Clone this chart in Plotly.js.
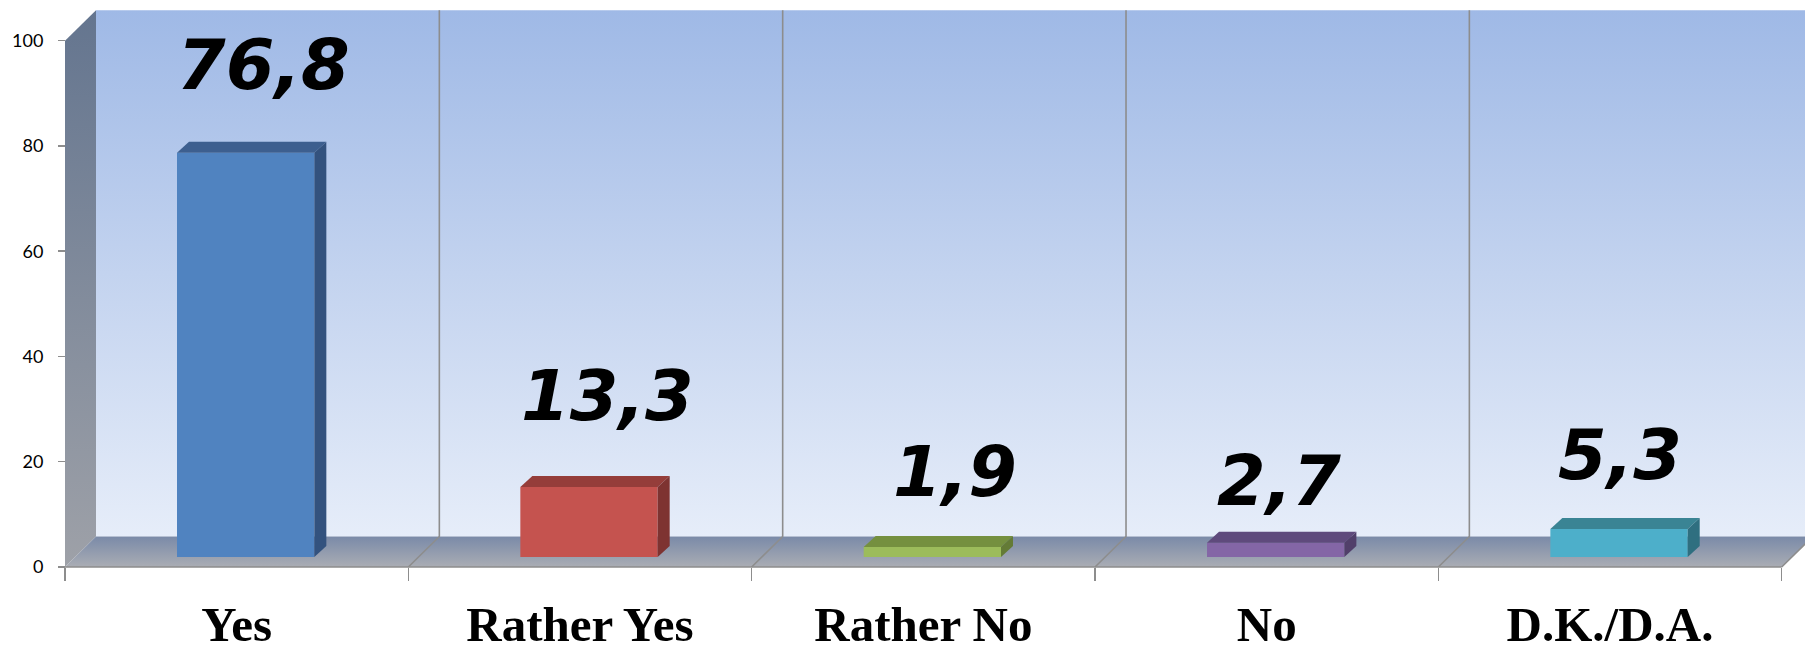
<!DOCTYPE html>
<html><head><meta charset="utf-8">
<script src="https://cdn.plot.ly/plotly-3.0.1.min.js"></script>
<style>html,body{margin:0;padding:0;background:#fff;}#chart{width:1805px;height:652px;}</style>
</head><body><div id="chart"></div>
<script>
// ---- data ----
const categories = ['Yes', 'Rather Yes', 'Rather No', 'No', 'D.K./D.A.'];
const values = [76.8, 13.3, 1.9, 2.7, 5.3];
const yTickValues = [0, 20, 40, 60, 80, 100];

// ---- styles ----
const frontColors = ['#5083C0', '#C5534F', '#9CBC5B', '#8466A6', '#4DAFCA'];
const topColors   = ['#3D5F8F', '#953D3A', '#75903F', '#5F4A7C', '#3A8494'];
const sideColors  = ['#33527E', '#7E3331', '#647B36', '#513F6A', '#2F6F80'];
const labelDX   = [18, 18, 23, 3, 1];     // px horizontal shift of value labels from bar centre
const labelRise = [63, 66, 50, 37, 49];   // px from bar top to label baseline

// ---- geometry (pixels) ----
const W = 1805, H = 652;
const X0 = 65, X1 = 1781.7, Y0 = 567, Y100 = 40.7;
const DX = 31, DY = 30.5;              // wall depth
const BAR_LIFT = 10, BAR_SHIFT = 9;    // bar front plane inside the floor
const BAR_DX = 12, BAR_DY = 11;        // bar depth
const PXU = (Y0 - Y100) / 100;         // pixels per unit
const CATW = (X1 - X0) / categories.length;

const base = {mode: 'lines', line: {width: 0}, fill: 'toself', hoverinfo: 'skip', showlegend: false, xaxis: 'x', yaxis: 'y'};
const backWall = Object.assign({}, base, {
  x: [X0 + DX, X1 + DX, X1 + DX, X0 + DX, X0 + DX],
  y: [Y100 - DY, Y100 - DY, Y0 - DY, Y0 - DY, Y100 - DY],
  fillgradient: {type: 'vertical', start: Y100 - DY, stop: Y0 - DY,
    colorscale: [[0, '#9FB9E6'], [0.5, '#C3D3EF'], [1, '#E6EDF9']]}
});
const leftWall = Object.assign({}, base, {
  x: [X0, X0 + DX, X0 + DX, X0, X0],
  y: [Y100, Y100 - DY, Y0 - DY, Y0, Y100],
  fillgradient: {type: 'vertical', start: Y100 - DY, stop: Y0,
    colorscale: [[0, '#64758F'], [1, '#9EA1A8']]}
});
const floor = Object.assign({}, base, {
  x: [X0, X0 + DX, X1 + DX, X1, X0],
  y: [Y0, Y0 - DY, Y0 - DY, Y0, Y0],
  fillgradient: {type: 'vertical', start: Y0 - DY, stop: Y0,
    colorscale: [[0, '#7A8AA8'], [1, '#AAADB4']]}
});
const gx = [], gy = [];
for (let k = 1; k <= categories.length; k++) {
  const xb = X0 + k * CATW;
  gx.push(xb, xb + DX, xb + DX, null);
  gy.push(Y0, Y0 - DY, Y100 - DY, null);
}
gx.push(X0, X1, null); gy.push(Y0, Y0, null);
const grid = {x: gx, y: gy, mode: 'lines', line: {color: '#8D8D8D', width: 1.6},
  hoverinfo: 'skip', showlegend: false, xaxis: 'x', yaxis: 'y'};

const bars = {
  type: 'bar', x: categories, y: values, xaxis: 'x2', yaxis: 'y2',
  width: 0.4, offset: -0.2 + BAR_SHIFT / CATW,
  marker: {color: frontColors, line: {width: 0}}, showlegend: false, hoverinfo: 'skip'
};
const tickHolder = {type: 'scatter', x: [], y: [], xaxis: 'x2', yaxis: 'y3', showlegend: false, hoverinfo: 'skip'};

const shapes = [];
const annotations = [];
const L = -0.2 * CATW + BAR_SHIFT, R = 0.2 * CATW + BAR_SHIFT;
values.forEach((v, i) => {
  const hpx = v * PXU;
  shapes.push({type: 'path', xref: 'x2', yref: 'y2', xsizemode: 'pixel', ysizemode: 'pixel',
    xanchor: i, yanchor: v, line: {width: 0}, fillcolor: topColors[i],
    path: `M${L},0L${R},0L${R + BAR_DX},${BAR_DY}L${L + BAR_DX},${BAR_DY}Z`});
  shapes.push({type: 'path', xref: 'x2', yref: 'y2', xsizemode: 'pixel', ysizemode: 'pixel',
    xanchor: i, yanchor: v, line: {width: 0}, fillcolor: sideColors[i],
    path: `M${R},0L${R + BAR_DX},${BAR_DY}L${R + BAR_DX},${BAR_DY - hpx}L${R},${-hpx}Z`});
  annotations.push({xref: 'x2', yref: 'y2', x: i, y: v, showarrow: false,
    text: v.toFixed(1).replace('.', ','), xanchor: 'center', yanchor: 'bottom',
    xshift: BAR_SHIFT + labelDX[i], yshift: labelRise[i] - 18,
    font: {family: 'DejaVu Sans', size: 70, color: '#000', weight: 'bold', style: 'italic'}});
});

const layout = {
  width: W, height: H, margin: {l: 0, r: 0, t: 0, b: 0},
  paper_bgcolor: '#ffffff', plot_bgcolor: 'rgba(0,0,0,0)', hovermode: false,
  xaxis: {range: [0, W], domain: [0, 1], visible: false, fixedrange: true},
  yaxis: {range: [H, 0], domain: [0, 1], visible: false, fixedrange: true},
  xaxis2: {overlaying: 'x', type: 'category', categoryorder: 'array', categoryarray: categories,
    range: [-0.5 - X0 / CATW, categories.length - 0.5 + (W - X1) / CATW],
    anchor: 'free', position: (H - Y0) / H, side: 'bottom',
    showline: false, showgrid: false, zeroline: false,
    ticks: 'outside', tickson: 'boundaries', ticklen: 13, tickwidth: 1.5, tickcolor: '#8D8D8D',
    ticklabelstandoff: 24,
    tickfont: {family: 'Liberation Serif', size: 49, color: '#000', weight: 'bold'}},
  yaxis2: {overlaying: 'y', range: [-(H - (Y0 - BAR_LIFT)) / PXU, (Y0 - BAR_LIFT) / PXU],
    visible: false, fixedrange: true},
  yaxis3: {overlaying: 'y', range: [-(H - Y0) / PXU, Y0 / PXU],
    anchor: 'free', position: X0 / W, side: 'left',
    tickmode: 'array', tickvals: yTickValues, ticktext: yTickValues.map(String),
    showline: false, showgrid: false, zeroline: false,
    ticks: 'outside', ticklen: 7, tickwidth: 1.5, tickcolor: '#8D8D8D',
    ticklabelstandoff: 11,
    tickfont: {family: 'Lato', size: 18, color: '#000'}},
  shapes: shapes, annotations: annotations
};

Plotly.newPlot('chart', [backWall, leftWall, floor, grid, bars, tickHolder], layout, {staticPlot: true});
</script>
</body></html>
